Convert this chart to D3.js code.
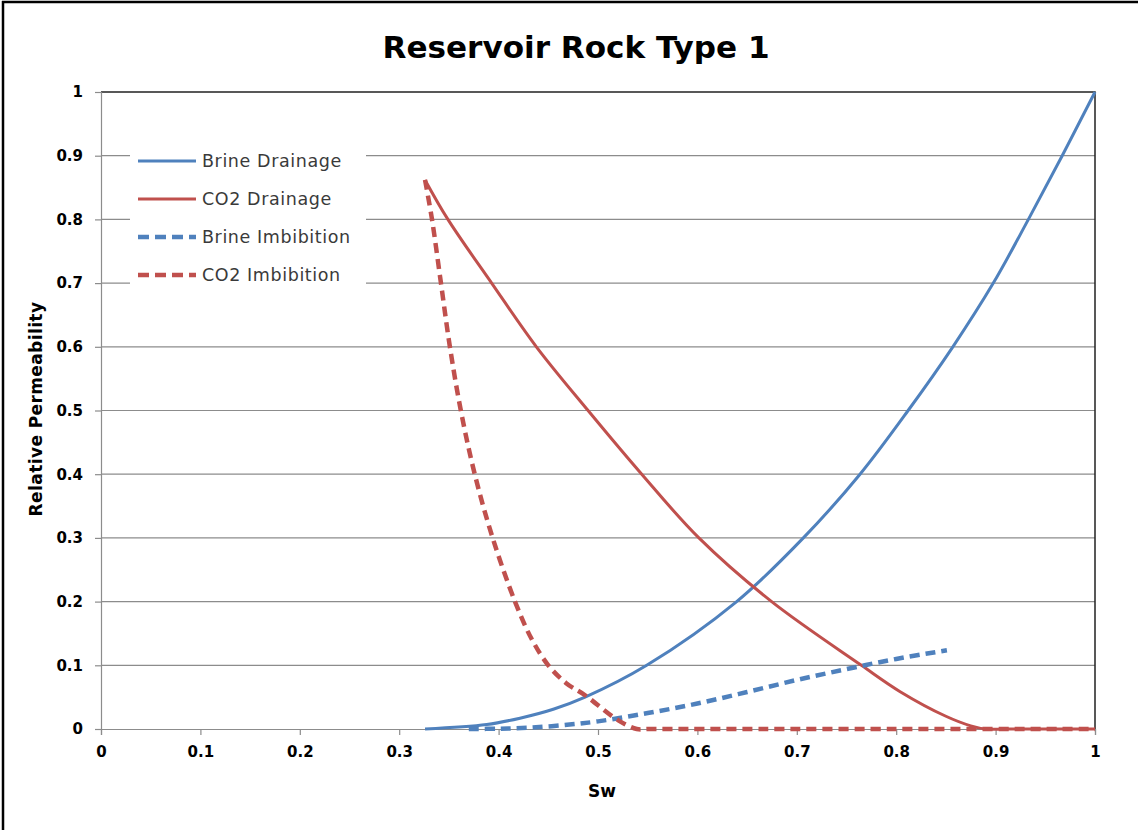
<!DOCTYPE html>
<html>
<head>
<meta charset="utf-8">
<script src="https://cdn.jsdelivr.net/npm/d3@7"></script>
<style>
  body { margin: 0; background: #fff; }
  text { font-family: 'DejaVu Sans', sans-serif; }
</style>
</head>
<body>
<script>
var xTicks = [0, 0.1, 0.2, 0.3, 0.4, 0.5, 0.6, 0.7, 0.8, 0.9, 1];
var yTicks = [0, 0.1, 0.2, 0.3, 0.4, 0.5, 0.6, 0.7, 0.8, 0.9, 1];

var brineDrainSw = [0.326, 0.388, 0.4215, 0.455, 0.487, 0.549, 0.6395, 0.7066, 0.7636, 0.812, 0.857, 0.8977, 0.933, 0.967, 1.0];
var brineDrainKr = [0, 0.007, 0.017, 0.031, 0.05, 0.1, 0.2, 0.3, 0.4, 0.5, 0.6, 0.7, 0.8, 0.9, 1.0];

var co2DrainSw = [0.326, 0.349, 0.393, 0.438, 0.49, 0.544, 0.6015, 0.6747, 0.765, 0.804, 0.85, 0.875, 0.89, 0.91, 0.95, 1.0];
var co2DrainKr = [0.862, 0.8, 0.7, 0.6, 0.5, 0.4, 0.3, 0.2, 0.1, 0.0586, 0.02, 0.005, 0, 0, 0, 0];

var brineImbSw = [0.37, 0.4, 0.43, 0.465, 0.5, 0.55, 0.6, 0.65, 0.7, 0.75, 0.8, 0.851];
var brineImbKr = [0, 0.0005, 0.002, 0.006, 0.012, 0.025, 0.04, 0.058, 0.077, 0.094, 0.11, 0.1235];

var co2ImbSw = [0.326, 0.333, 0.342, 0.351, 0.362, 0.376, 0.394, 0.4165, 0.433, 0.45, 0.468, 0.487, 0.52, 0.539, 0.55, 0.57, 0.6, 0.8, 1.0];
var co2ImbKr = [0.862, 0.8, 0.7, 0.6, 0.5, 0.4, 0.3, 0.2, 0.142, 0.1, 0.072, 0.053, 0.014, 0, 0, 0, 0, 0, 0];

var seriesNames = ['Brine Drainage', 'CO2 Drainage', 'Brine Imbibition', 'CO2 Imbibition'];
var seriesColors = ['#4f81bd', '#c0504d', '#4f81bd', '#c0504d'];
var seriesDashed = [false, false, true, true];

function toPoints(sw, kr) {
  var pts = [];
  for (var i = 0; i < sw.length; i++) {
    pts.push({ x: sw[i], y: kr[i] });
  }
  return pts;
}

var seriesData = [
  toPoints(brineDrainSw, brineDrainKr),
  toPoints(co2DrainSw, co2DrainKr),
  toPoints(brineImbSw, brineImbKr),
  toPoints(co2ImbSw, co2ImbKr)
];

var svg = d3.select('body')
  .append('svg')
  .attr('width', 1138)
  .attr('height', 830);

// outer frame (left + top)
svg.append('line')
  .attr('x1', 3).attr('y1', 1).attr('x2', 3).attr('y2', 830)
  .attr('stroke', '#000').attr('stroke-width', 2.5);
svg.append('line')
  .attr('x1', 2).attr('y1', 2).attr('x2', 1138).attr('y2', 2)
  .attr('stroke', '#000').attr('stroke-width', 2.5);

// note: "top" is taken by window.top, so use plot* names
var plotLeft = 101, plotRight = 1095, plotTop = 92, plotBottom = 729;

var x = d3.scaleLinear().domain([0, 1]).range([plotLeft, plotRight]);
var y = d3.scaleLinear().domain([0, 1]).range([plotBottom, plotTop]);

// gridlines
svg.append('g')
  .selectAll('line')
  .data(yTicks.slice(1, -1))
  .enter()
  .append('line')
  .attr('x1', plotLeft)
  .attr('x2', plotRight)
  .attr('y1', function(d) { return y(d); })
  .attr('y2', function(d) { return y(d); })
  .attr('stroke', '#8c8c8c')
  .attr('stroke-width', 1.2);

// plot border top and right
svg.append('path')
  .attr('d', 'M' + plotLeft + ',' + plotTop + 'H' + plotRight + 'V' + plotBottom)
  .attr('fill', 'none')
  .attr('stroke', '#222')
  .attr('stroke-width', 1.5);

// axes
var xAxis = svg.append('g')
  .attr('transform', 'translate(0,' + plotBottom + ')')
  .call(d3.axisBottom(x).tickValues(xTicks).tickSize(6).tickPadding(8)
    .tickFormat(function(d) { return d3.format('')(d); }));
var yAxis = svg.append('g')
  .attr('transform', 'translate(' + plotLeft + ',0)')
  .call(d3.axisLeft(y).tickValues(yTicks).tickSize(6).tickPadding(10)
    .tickFormat(function(d) { return d3.format('')(d); }));

[xAxis, yAxis].forEach(function(ax) {
  ax.select('.domain').attr('stroke', '#8c8c8c').attr('stroke-width', 1.2);
  ax.selectAll('.tick line').attr('stroke', '#8c8c8c').attr('stroke-width', 1.2);
  ax.selectAll('.tick text')
    .attr('font-family', 'DejaVu Sans, sans-serif')
    .attr('font-size', 15)
    .attr('font-weight', 'bold')
    .attr('fill', '#000');
});
xAxis.selectAll('.tick text').attr('dy', '0.9em');
yAxis.selectAll('.tick text').attr('dx', '-2');

// curves
var line = d3.line()
  .x(function(d) { return x(d.x); })
  .y(function(d) { return y(d.y); })
  .curve(d3.curveCatmullRom.alpha(0.5));

// legend box goes under the curves (it only hides gridlines)
var legend = svg.append('g');
legend.append('rect')
  .attr('x', 130).attr('y', 140)
  .attr('width', 236).attr('height', 150)
  .attr('fill', '#fff');

for (var i = 0; i < seriesData.length; i++) {
  svg.append('path')
    .datum(seriesData[i])
    .attr('d', line)
    .attr('fill', 'none')
    .attr('stroke', seriesColors[i])
    .attr('stroke-width', seriesDashed[i] ? 4.5 : 3)
    .attr('stroke-dasharray', seriesDashed[i] ? '10,6' : null)
    .attr('stroke-linejoin', 'round');
}

legend.selectAll('g')
  .data(seriesNames)
  .enter()
  .append('g')
  .call(function(g) {
    g.append('line')
      .attr('x1', 138)
      .attr('x2', 196)
      .attr('y1', function(d, i) { return 161 + i * 38; })
      .attr('y2', function(d, i) { return 161 + i * 38; })
      .attr('stroke', function(d, i) { return seriesColors[i]; })
      .attr('stroke-width', function(d, i) { return seriesDashed[i] ? 4.5 : 3; })
      .attr('stroke-dasharray', function(d, i) { return seriesDashed[i] ? '11,6' : null; });
    g.append('text')
      .attr('x', 202)
      .attr('y', function(d, i) { return 161 + i * 38; })
      .attr('dy', '0.35em')
      .attr('font-size', 17.5)
      .attr('letter-spacing', 0.6)
      .attr('fill', '#3a3a3a')
      .text(function(d) { return d; });
    return g;
  });

// titles
svg.append('text')
  .attr('x', 576)
  .attr('y', 58)
  .attr('text-anchor', 'middle')
  .attr('font-size', 30)
  .attr('font-weight', 'bold')
  .attr('fill', '#000')
  .attr('textLength', 387)
  .attr('lengthAdjust', 'spacingAndGlyphs')
  .text('Reservoir Rock Type 1');

svg.append('text')
  .attr('x', 602)
  .attr('y', 797)
  .attr('text-anchor', 'middle')
  .attr('font-size', 17)
  .attr('font-weight', 'bold')
  .attr('fill', '#000')
  .text('Sw');

svg.append('text')
  .attr('transform', 'translate(42,409) rotate(-90)')
  .attr('text-anchor', 'middle')
  .attr('font-size', 17)
  .attr('letter-spacing', 0.4)
  .attr('font-weight', 'bold')
  .attr('fill', '#000')
  .text('Relative Permeability');
</script>
</body>
</html>
